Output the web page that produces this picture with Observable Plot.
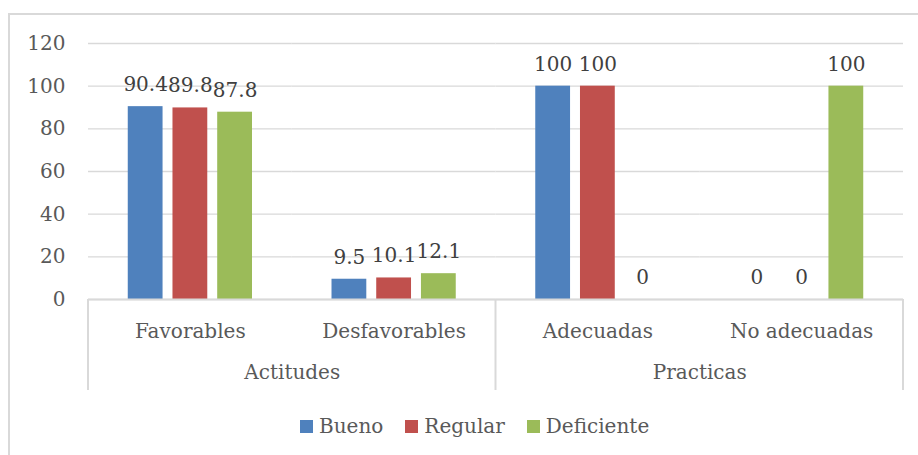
<!DOCTYPE html>
<html><head><meta charset="utf-8">
<script src="https://cdn.jsdelivr.net/npm/d3@7"></script>
<script src="https://cdn.jsdelivr.net/npm/@observablehq/plot@0.6"></script>
<style>
body{margin:0;background:#fff;font-family:"DejaVu Serif",serif;}
#wrap{position:relative;width:918px;height:455px;overflow:hidden;background:#fff;}
#border{position:absolute;left:8px;top:13px;width:1000px;height:1000px;border-left:2px solid #d9d9d9;border-top:2px solid #d9d9d9;}
#chart{position:absolute;left:0;top:0;}
#legend{position:absolute;top:413px;left:300px;display:flex;align-items:center;font-size:20px;color:#595959;line-height:26px;}
.item{display:flex;align-items:center;margin-right:22px;}
.sw{width:13px;height:13px;margin-right:6px;}
</style></head>
<body><div id="wrap"><div id="border"></div><div id="chart"></div><div id="legend"></div></div>
<script>
const groups = ["Actitudes", "Actitudes", "Practicas", "Practicas"];
const categories = ["Favorables", "Desfavorables", "Adecuadas", "No adecuadas"];
const series = ["Bueno", "Regular", "Deficiente"];
const bueno = [90.4, 9.5, 100, 0];
const regular = [89.8, 10.1, 100, 0];
const deficiente = [87.8, 12.1, 0, 100];
const yTicks = [0, 20, 40, 60, 80, 100, 120];
const colors = ["#4f81bd", "#c0504d", "#9bbb59"];

const seriesValues = [bueno, regular, deficiente];
const rows = categories.flatMap((c, i) =>
  series.map((s, j) => ({category: c, group: groups[i], series: s, value: seriesValues[j][i]}))
);
const groupNames = Array.from(new Set(groups));
const groupLabels = groupNames.map(g => {
  const cats = categories.filter((c, i) => groups[i] === g);
  return {group: g, first: cats[0], last: cats[cats.length - 1], mid: cats[Math.floor(cats.length / 2) - 1]};
});

const chart = Plot.plot({
  width: 918,
  height: 400,
  marginLeft: 88,
  marginRight: 15,
  marginTop: 43,
  marginBottom: 101,
  style: {fontFamily: '"DejaVu Serif", serif', fontSize: "20px", color: "#595959", background: "transparent", overflow: "visible"},
  fx: {domain: categories, padding: 0, label: null, round: false},
  x: {domain: series, paddingInner: 0.222, paddingOuter: 0.889, axis: null, round: false},
  y: {domain: [0, 120], ticks: yTicks},
  color: {domain: series, range: colors},
  marks: [
    Plot.gridY(yTicks, {stroke: "#d9d9d9", strokeOpacity: 1, strokeWidth: 1.3}),
    Plot.axisY(yTicks, {tickSize: 0, tickPadding: 23, label: null, fontSize: 20}),
    Plot.axisFx({anchor: "bottom", tickSize: 0, tickPadding: 24, label: null, fontSize: 20}),
    Plot.barY(rows, {fx: "category", x: "series", y: "value", fill: "series"}),
    Plot.ruleY([0], {stroke: "#d9d9d9", strokeWidth: 2}),
    Plot.text(rows, {fx: "category", x: "series", y: "value", text: d => String(d.value), dy: -22, fill: "#404040", fontSize: 20}),
    Plot.text(groupLabels, {fx: "mid", text: "group", frameAnchor: "bottom-right", textAnchor: "middle", dy: 79, fill: "#595959", fontSize: 20})
  ]
});

// group separators below the category axis, positioned with Plot's own scales
const fxs = chart.scale("fx");
const ys = chart.scale("y");
const y0 = ys.apply(0);
const edges = [];
groupLabels.forEach(g => edges.push(fxs.apply(g.first)));
edges.push(fxs.apply(groupLabels[groupLabels.length - 1].last) + fxs.bandwidth);
d3.select(chart).append("g")
  .selectAll("line").data(edges).join("line")
  .attr("x1", d => d).attr("x2", d => d)
  .attr("y1", y0).attr("y2", y0 + 91)
  .attr("stroke", "#d9d9d9").attr("stroke-width", 2);

document.getElementById("chart").appendChild(chart);

const legend = d3.select("#legend");
series.forEach((s, i) => {
  const it = legend.append("div").attr("class", "item");
  it.append("div").attr("class", "sw").style("background", colors[i]);
  it.append("span").text(s);
});
</script>
</body></html>
